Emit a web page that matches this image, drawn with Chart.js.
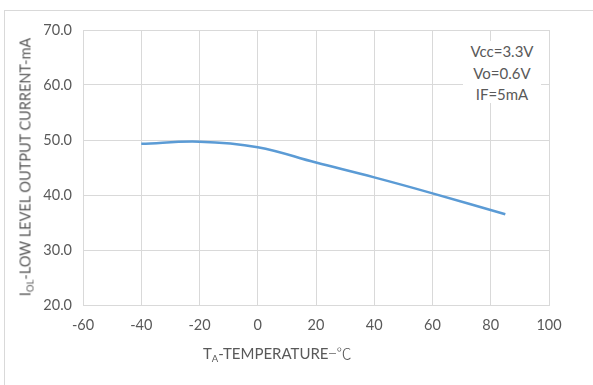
<!DOCTYPE html>
<html><head><meta charset="utf-8">
<script src="https://cdn.jsdelivr.net/npm/chart.js@4/dist/chart.umd.min.js"></script>
<style>
html,body{margin:0;padding:0;background:#fff;}
#wrap{position:relative;width:593px;height:385px;overflow:hidden;font-family:Lato,"Open Sans",sans-serif;color:#595959;}
#frame{position:absolute;left:4px;top:10px;width:640px;height:420px;border:1px solid #d9d9d9;box-sizing:border-box;}
canvas{position:absolute;left:0;top:0;}
#note{position:absolute;left:463px;top:41px;width:78px;height:62px;background:#fff;text-align:center;font-size:15px;line-height:21.5px;}
#xt{position:absolute;left:203px;top:342px;font-size:15px;white-space:nowrap;}
#yt{position:absolute;left:26px;top:167px;font-size:14.5px;white-space:nowrap;transform:translate(-50%,-50%) rotate(-90deg);}
sub{font-size:9.5px;vertical-align:-3px;}
.cjk{font-family:"Noto Sans CJK SC";font-weight:300;}
</style></head>
<body><div id="wrap"><div id="frame"></div><canvas id="c" width="593" height="385"></canvas>
<div id="note">Vcc=3.3V<br>Vo=0.6V<br>IF=5mA</div>
<div id="xt">T<sub>A</sub>-TEMPERATURE<span class="cjk">−℃</span></div>
<div id="yt">I<sub>OL</sub>-LOW LEVEL OUTPUT CURRENT-mA</div>
</div>
<script>
const temperature = [-40, -20, 0, 20, 40, 60, 85];
const currentIOL = [49.3, 49.7, 48.7, 45.9, 43.2, 40.3, 36.5];
const xTicks = [-60, -40, -20, 0, 20, 40, 60, 80, 100];
const yTicks = [20, 30, 40, 50, 60, 70];

new Chart(document.getElementById('c'), {
  type: 'line',
  data: { datasets: [{ data: temperature.map((t,i)=>({x:t,y:currentIOL[i]})),
    borderColor:'#5b9bd5', borderWidth:2.5, pointRadius:0, tension:0.4, fill:false }] },
  options: {
    responsive:false, animation:false,
    layout:{padding:{left:0,top:30,right:44,bottom:0}},
    plugins:{legend:{display:false},tooltip:{enabled:false}},
    scales:{
      x:{type:'linear',min:-60,max:100,
        afterBuildTicks:s=>{s.ticks=xTicks.map(v=>({value:v}));},
        afterFit:s=>{s.height=80;},
        grid:{color:'#d9d9d9',drawTicks:false},border:{color:'#d9d9d9'},
        ticks:{padding:12,color:'#595959',font:{family:'Lato',size:14.5},maxRotation:0}},
      y:{min:20,max:70,
        afterBuildTicks:s=>{s.ticks=yTicks.map(v=>({value:v}));},
        afterFit:s=>{s.width=83;},
        grid:{color:'#d9d9d9',drawTicks:false},border:{color:'#d9d9d9'},
        ticks:{padding:11,color:'#595959',font:{family:'Lato',size:14.5},callback:v=>Number(v).toFixed(1)}}
    }
  }
});
</script></body></html>
